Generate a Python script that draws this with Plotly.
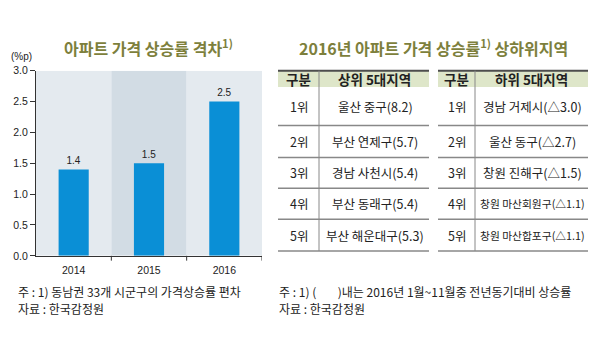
import plotly.graph_objects as go

W, H = 609, 339
KR = "Noto Sans CJK KR"
NUM = "Liberation Sans"

# ---- data ----
years = ["2014", "2015", "2016"]
gaps = [1.4, 1.5, 2.5]
y_ticks = [0.0, 0.5, 1.0, 1.5, 2.0, 2.5, 3.0]

ranks = ["1위", "2위", "3위", "4위", "5위"]
top5 = ["울산 중구(8.2)", "부산 연제구(5.7)", "경남 사천시(5.4)", "부산 동래구(5.4)", "부산 해운대구(5.3)"]
bottom5 = ["경남 거제시(△3.0)", "울산 동구(△2.7)", "창원 진해구(△1.5)", "창원 마산회원구(△1.1)", "창원 마산합포구(△1.1)"]
header_left = ["구분", "상위 5대지역"]
header_right = ["구분", "하위 5대지역"]

title_left = "<b>아파트 가격 상승률 격차<sup>1)</sup></b>"
title_right = "<b>2016년 아파트 가격 상승률<sup>1)</sup> 상하위지역</b>"
note_left = ["주 : 1) 동남권 33개 시군구의 가격상승률 편차", "자료 : 한국감정원"]
note_right = ["주 : 1) (        )내는 2016년 1월~11월중 전년동기대비 상승률", "자료 : 한국감정원"]

BAR = "#0a8fd6"
BG_LIGHT = "#e4eaef"
BG_DARK = "#d2dce4"
OLIVE = "#7d7f3c"
HEAD_BG = "#dee6c9"


def px(x):
    return x / W


def py(y):
    return 1 - y / H


def est_em(s):
    w = 0.0
    for ch in s:
        if ord(ch) > 0x2000:
            w += 1.0
        elif ch == " ":
            w += 0.23
        elif ch in "().":
            w += 0.3
        else:
            w += 0.55
    return w


def fit_size(s, base, maxw):
    return min(base, maxw / est_em(s))


def label(text, x, y, size, color="#222", family=KR, xanchor="center", align="center"):
    return dict(text=text, x=px(x), y=py(y), xref="paper", yref="paper", showarrow=False,
                font=dict(family=family, size=size, color=color), xanchor=xanchor, yanchor="middle",
                align=align)


fig = go.Figure()
fig.add_trace(go.Bar(
    x=years, y=gaps, marker=dict(color=BAR, line=dict(width=0)), width=0.4,
    text=[f"{v:.1f}" for v in gaps], textposition="outside",
    textfont=dict(family=NUM, size=10, color="#222"), cliponaxis=False,
))

shapes = []
annotations = []

# column backgrounds
for i, _ in enumerate(years):
    shapes.append(dict(type="rect", xref="x", yref="y", x0=i - 0.5, x1=i + 0.5, y0=0, y1=3.0,
                       fillcolor=BG_DARK if i == 1 else BG_LIGHT, line=dict(width=0), layer="below"))
# x tick marks between categories
for i in range(len(years)):
    shapes.append(dict(type="line", xref="x", yref="paper", x0=i + 0.5, x1=i + 0.5,
                       y0=py(259), y1=py(264), line=dict(color="#333", width=1)))

# titles
annotations.append(label(title_left, 148, 43, 16, OLIVE))
annotations.append(label(title_right, 433, 43, 16, OLIVE))
annotations.append(label("(%p)", 9, 52, 10, family=NUM, xanchor="left"))

# footnotes
for j, t in enumerate(note_left):
    annotations.append(label(t, 16, 296 + 18 * j, 12, xanchor="left", align="left"))
for j, t in enumerate(note_right):
    annotations.append(label(t, 277, 296 + 18 * j, 12, xanchor="left", align="left"))

# tables
row_edges = [84, 124, 157, 189, 221, 254]
head_top = 67


def draw_table(x0, xdiv, x1, header, col2):
    shapes.append(dict(type="rect", xref="paper", yref="paper", x0=px(x0), x1=px(x1),
                       y0=py(row_edges[0]), y1=py(head_top), fillcolor=HEAD_BG, line=dict(width=0)))
    shapes.append(dict(type="line", xref="paper", yref="paper", x0=px(x0), x1=px(x1),
                       y0=py(head_top), y1=py(head_top), line=dict(color="#4d4d4d", width=2)))
    shapes.append(dict(type="line", xref="paper", yref="paper", x0=px(xdiv), x1=px(xdiv),
                       y0=py(row_edges[-1]), y1=py(head_top), line=dict(color="#888", width=1)))
    for e in row_edges[1:]:
        shapes.append(dict(type="line", xref="paper", yref="paper", x0=px(x0), x1=px(x1),
                           y0=py(e), y1=py(e), line=dict(color="#888", width=1.5)))
    hy = (head_top + row_edges[0]) / 2 + 0.5
    annotations.append(label("<b>" + header[0] + "</b>", (x0 + xdiv) / 2, hy, 13.5))
    annotations.append(label("<b>" + header[1] + "</b>", (xdiv + x1) / 2, hy, 13.5))
    colw = x1 - xdiv - 3
    for k in range(len(ranks)):
        cy = (row_edges[k] + row_edges[k + 1]) / 2
        annotations.append(label(ranks[k], (x0 + xdiv) / 2, cy, 12.5))
        annotations.append(label(col2[k], (xdiv + x1) / 2 + 1, cy, fit_size(col2[k], 12.5, colw)))


draw_table(278, 319, 429, header_left, top5)
draw_table(438, 475, 588, header_right, bottom5)

fig.update_layout(
    width=W, height=H, margin=dict(l=0, r=0, t=0, b=0),
    paper_bgcolor="white", plot_bgcolor="white", showlegend=False,
    xaxis=dict(domain=[px(36), px(262)], range=[-0.5, 2.5], showgrid=False, ticks="",
               showline=True, linecolor="#333", linewidth=1, ticklabelstandoff=5,
               tickfont=dict(family=NUM, size=10.5, color="#222")),
    yaxis=dict(domain=[py(259), py(67)], range=[0, 3.0], tickvals=y_ticks,
               ticktext=[f"{v:.1f}" for v in y_ticks], showgrid=False, zeroline=False,
               ticks="outside", ticklen=5, tickcolor="#333", showline=True, linecolor="#333", linewidth=1,
               tickfont=dict(family=NUM, size=10.5, color="#222")),
    shapes=shapes, annotations=annotations, bargap=0.6,
)

fig.write_html("out.html")
